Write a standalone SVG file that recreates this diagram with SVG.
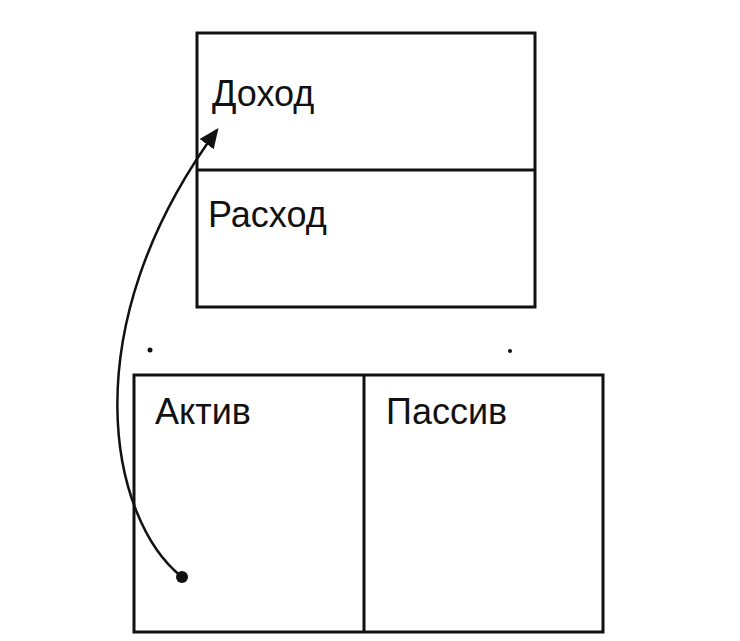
<svg xmlns="http://www.w3.org/2000/svg" width="740" height="641" viewBox="0 0 740 641">
<style>
.b{fill:none;stroke:#111;stroke-width:3}
.t{font-family:"Liberation Sans",Arial,sans-serif;font-size:36px;fill:#111}
</style>
<defs><marker id="a" markerWidth="20" markerHeight="20" refX="14" refY="7" orient="auto" markerUnits="userSpaceOnUse" viewBox="0 0 16 14"><path d="M0,0 L16,7 L0,14 z" fill="#111"/></marker></defs>
<rect width="740" height="641" fill="#fff"/>
<g id="top">
<rect class="b" x="197" y="33" width="338" height="274"/>
<line class="b" x1="197" y1="170" x2="535" y2="170"/>
<text class="t" x="212" y="106">Доход</text>
<text class="t" x="208" y="227">Расход</text>
</g>
<g id="bottom">
<rect class="b" x="134" y="375" width="469" height="257"/>
<line class="b" x1="364" y1="375" x2="364" y2="632"/>
<text class="t" x="155" y="424">Актив</text>
<text class="t" x="386" y="424">Пассив</text>
</g>
<circle cx="150" cy="350" r="2.5" fill="#111"/>
<circle cx="510" cy="351" r="2" fill="#111"/>
<g id="connectors">
<circle cx="182" cy="577" r="6" fill="#111"/>
<path d="M182,577 C110,520 70,330 217,130" fill="none" stroke="#111" stroke-width="2.5" marker-end="url(#a)"/>
</g>
</svg>
